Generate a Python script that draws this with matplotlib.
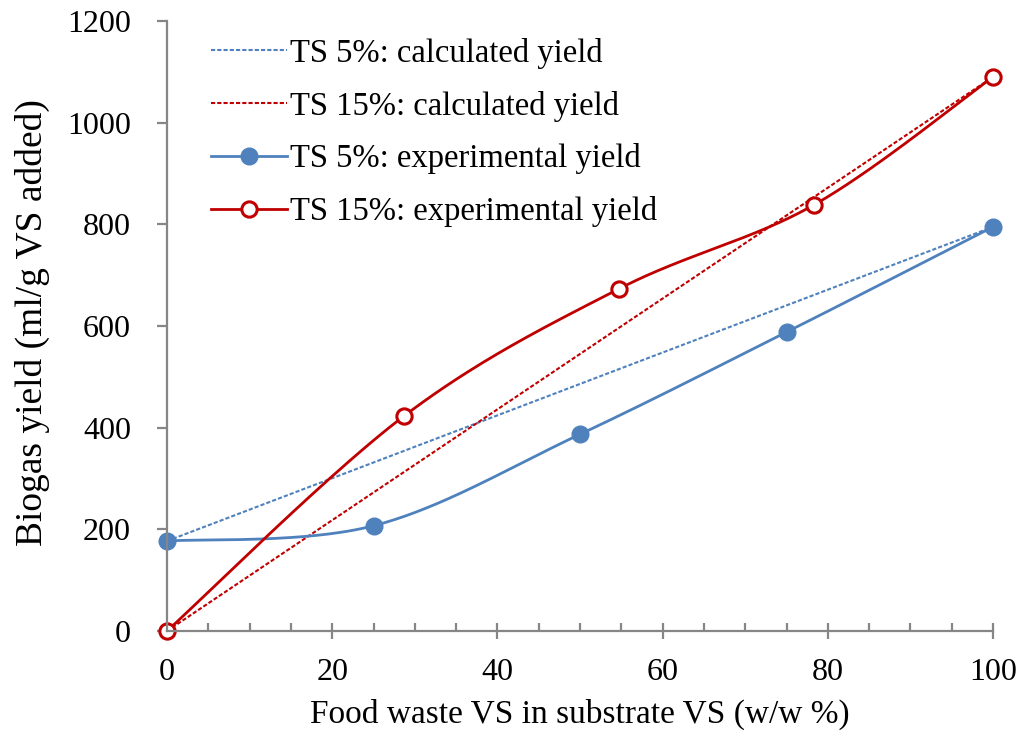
import numpy as np
import matplotlib
matplotlib.use("Agg")
import matplotlib.pyplot as plt
from matplotlib.ticker import MultipleLocator
from matplotlib.lines import Line2D

# Data
ts5_x = [0, 25, 50, 75, 100]
ts5_y = [177, 207, 387, 588, 795]
ts15_x = [0, 28.7, 54.7, 78.3, 100]
ts15_y = [0, 423, 673, 838, 1090]
calc_x = [0, 100]
ts5_calc = [177, 795]
ts15_calc = [0, 1090]
labels = ["TS 5%: calculated yield", "TS 15%: calculated yield",
          "TS 5%: experimental yield", "TS 15%: experimental yield"]

BLUE = "#4F81BD"
RED = "#C00000"
GRAY = "#868686"

plt.rcParams['font.family'] = ['Liberation Serif', 'DejaVu Serif']

fig = plt.figure(figsize=(10.25, 7.33), dpi=100)
ax = fig.add_axes([167/1025, 1-631/733, (993-167)/1025, (631-21)/733])
ax.set_xlim(0, 100)
ax.set_ylim(0, 1200)

# pixel scale factors for Excel-like smoothing in screen space
sx = (993-167)/100.0
sy = (631-21)/1200.0

def smooth(xs, ys, n=60):
    P = np.column_stack([np.array(xs)*sx, np.array(ys)*sy])
    pts = []
    m = len(P)
    for i in range(m-1):
        p0 = P[max(i-1, 0)]
        p1 = P[i]
        p2 = P[i+1]
        p3 = P[min(i+2, m-1)]
        c1 = p1 + (p2-p0)/6.0
        c2 = p2 - (p3-p1)/6.0
        t = np.linspace(0, 1, n)[:, None]
        seg = ((1-t)**3)*p1 + 3*((1-t)**2)*t*c1 + 3*(1-t)*t**2*c2 + t**3*p2
        if i > 0:
            seg = seg[1:]
        pts.append(seg)
    pts = np.vstack(pts)
    return pts[:, 0]/sx, pts[:, 1]/sy

dash = (0, (2.0, 1.0))
DLW = 1.5
SLW = 2.0
ax.plot(calc_x, ts5_calc, color=BLUE, lw=DLW, linestyle=dash)
ax.plot(calc_x, ts15_calc, color=RED, lw=DLW, linestyle=dash)

bx, by = smooth(ts5_x, ts5_y)
ax.plot(bx, by, color=BLUE, lw=SLW)
rx, ry = smooth(ts15_x, ts15_y)
ax.plot(rx, ry, color=RED, lw=SLW)

ax.plot(ts5_x, ts5_y, linestyle='none', marker='o', ms=12, color=BLUE, mec=BLUE)
ax.plot(ts15_x, ts15_y, linestyle='none', marker='o', ms=11, mfc='white', mec=RED, mew=2.2)

handles = [
    Line2D([], [], color=BLUE, lw=DLW, linestyle=dash),
    Line2D([], [], color=RED, lw=DLW, linestyle=dash),
    Line2D([], [], color=BLUE, lw=SLW, marker='o', ms=12, mec=BLUE),
    Line2D([], [], color=RED, lw=SLW, marker='o', ms=11, mfc='white', mec=RED, mew=2.2),
]
ax.legend(handles, labels, loc='upper left', bbox_to_anchor=(0.038, 0.994), frameon=False,
          fontsize=23.5, handlelength=2.3, handletextpad=0.12, labelspacing=0.67, borderaxespad=0)

for s in ['top', 'right']:
    ax.spines[s].set_visible(False)
for s in ['left', 'bottom']:
    ax.spines[s].set_color(GRAY)
    ax.spines[s].set_linewidth(1.6)

ax.xaxis.set_major_locator(MultipleLocator(20))
ax.xaxis.set_minor_locator(MultipleLocator(5))
ax.yaxis.set_major_locator(MultipleLocator(200))
ax.tick_params(axis='x', which='major', direction='inout', length=11, width=1.6, color=GRAY,
               labelsize=23, pad=14)
ax.tick_params(axis='x', which='minor', direction='in', length=6, width=1.6, color=GRAY)
ax.tick_params(axis='y', which='major', direction='out', length=7, width=1.6, color=GRAY,
               labelsize=23, pad=19)

ax.set_xlabel("Food waste VS in substrate VS (w/w %)", fontsize=24)
ax.set_ylabel("Biogas yield (ml/g VS added)", fontsize=27)
ax.xaxis.set_label_coords(0.5, -0.111)
ax.yaxis.set_label_coords(-0.142, 0.505)

for l in ax.lines:
    l.set_clip_on(False)

fig.savefig("out.png", dpi=100)
